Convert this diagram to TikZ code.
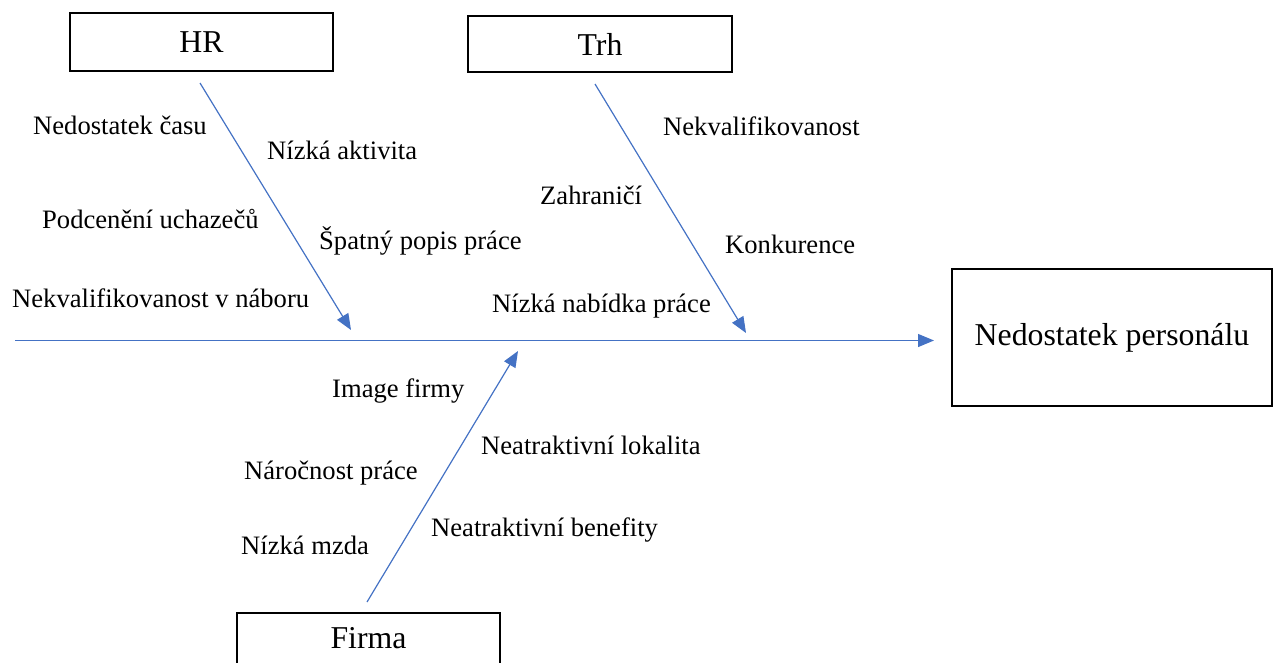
\documentclass[tikz,border=0pt]{standalone}
\usepackage{fontspec}
\setmainfont{Liberation Serif}
\usetikzlibrary{arrows.meta}
\definecolor{fbblue}{HTML}{4472C4}
\begin{document}
\begin{tikzpicture}[x=1pt,y=-1pt,
  box/.style={draw=black,line width=1.6pt,inner sep=0pt,font=\fontsize{31.8}{36}\selectfont},
  lbl/.style={anchor=west,inner sep=0pt,font=\fontsize{26.6}{30}\selectfont},
  bone/.style={draw=fbblue,line width=1.2pt,-{Triangle[length=16pt,width=13pt]}}]
\useasboundingbox (0,0) rectangle (1273,663);
% boxes
\node[box,minimum width=263,minimum height=58] (hr) at (201.5,42) {HR};
\node[box,minimum width=264,minimum height=56] (trh) at (600,44) {Trh};
\node[box,minimum width=320,minimum height=137] (res) at (1112,337.5) {Nedostatek personálu};
\node[box,minimum width=263,anchor=north,inner ysep=14.5pt,text height=21pt,text depth=30pt] (firma) at (368.5,612) {Firma};
% coordinates
\coordinate (sp0) at (15,340.5);
\coordinate (sp1) at (934,340.5);
\coordinate (hr0) at (200,83);
\coordinate (hr1) at (351,330);
\coordinate (trh0) at (595,84);
\coordinate (trh1) at (746,333);
\coordinate (fi0) at (367,602);
\coordinate (fi1) at (518,351);
% bones
\draw[bone] (sp0) -- (sp1);
\draw[bone] (hr0) -- (hr1);
\draw[bone] (trh0) -- (trh1);
\draw[bone] (fi0) -- (fi1);
% labels
\node[lbl] (l1) at (33,125) {Nedostatek času};
\node[lbl] (l2) at (267,150) {Nízká aktivita};
\node[lbl] (l3) at (42,219) {Podcenění uchazečů};
\node[lbl] (l4) at (319,241) {Špatný popis práce};
\node[lbl] (l5) at (12,298) {Nekvalifikovanost v náboru};
\node[lbl] (l6) at (492,306) {Nízká nabídka práce};
\node[lbl] (l7) at (663,126) {Nekvalifikovanost};
\node[lbl] (l8) at (540,195) {Zahraničí};
\node[lbl] (l9) at (725,244) {Konkurence};
\node[lbl] (l10) at (332,391) {Image firmy};
\node[lbl] (l11) at (481,445) {Neatraktivní lokalita};
\node[lbl] (l12) at (244,473) {Náročnost práce};
\node[lbl] (l13) at (241,545) {Nízká mzda};
\node[lbl] (l14) at (431,530) {Neatraktivní benefity};
\end{tikzpicture}
\end{document}
